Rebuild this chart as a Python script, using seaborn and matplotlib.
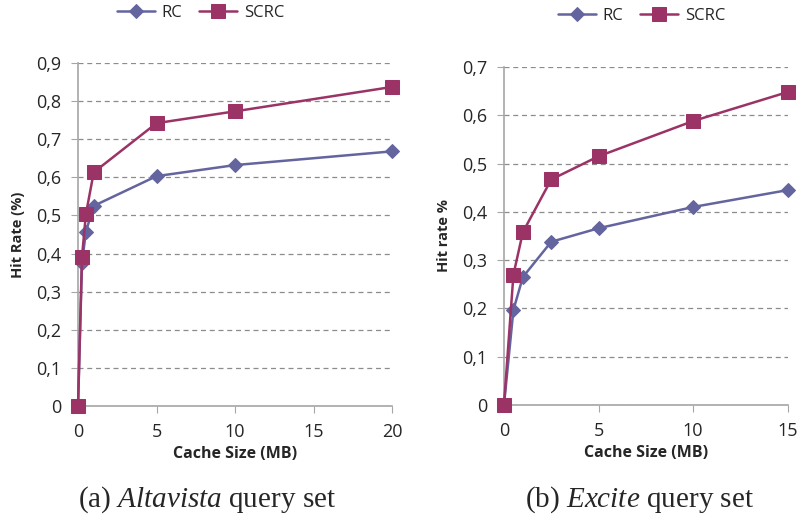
import matplotlib
matplotlib.use("Agg")
import matplotlib.pyplot as plt
import pandas as pd
import seaborn as sns
from matplotlib.ticker import FuncFormatter

# Altavista panel
alta_size = [0, 0.25, 0.5, 1, 5, 10, 20]
alta_rc = [0, 0.375, 0.457, 0.525, 0.603, 0.632, 0.668]
alta_scrc = [0, 0.39, 0.503, 0.613, 0.742, 0.773, 0.837]

# Excite panel
exc_size = [0, 0.5, 1, 2.5, 5, 10, 15]
exc_rc = [0, 0.197, 0.265, 0.338, 0.366, 0.41, 0.445]
exc_scrc = [0, 0.27, 0.358, 0.467, 0.515, 0.588, 0.648]

RC_COLOR = "#64649f"
SCRC_COLOR = "#9b3366"

sns.set_style("white")
plt.rcParams["font.family"] = ["Open Sans", "DejaVu Sans"]
plt.rcParams["mathtext.fontset"] = "custom"
plt.rcParams["mathtext.rm"] = "Liberation Serif"
plt.rcParams["mathtext.it"] = "Liberation Serif:italic"

fig = plt.figure(figsize=(8.02, 5.27), dpi=100)
ax1 = fig.add_axes([0.0973, 0.2296, 0.3915, 0.651])
ax2 = fig.add_axes([0.6284, 0.2315, 0.3536, 0.6414])

comma = FuncFormatter(lambda v, p: ("%g" % round(v, 2)).replace(".", ","))


def draw(ax, size, rc, scrc, xmax, ymax, ylabel, caption, cap_x, leg_pos):
    df = pd.DataFrame({"size": size, "RC": rc, "SCRC": scrc})
    sns.lineplot(data=df, x="size", y="RC", ax=ax, color=RC_COLOR, marker="D",
                 markersize=7, markeredgecolor=RC_COLOR, linewidth=1.8,
                 label="RC", clip_on=False, zorder=3)
    sns.lineplot(data=df, x="size", y="SCRC", ax=ax, color=SCRC_COLOR, marker="s",
                 markersize=10, markeredgecolor=SCRC_COLOR, linewidth=1.8,
                 label="SCRC", clip_on=False, zorder=4)
    ax.set_xlim(0, xmax)
    ax.set_ylim(0, ymax)
    ax.set_xticks(range(0, xmax + 1, 5))
    ax.set_yticks([i / 10 for i in range(int(round(ymax * 10)) + 1)])
    ax.yaxis.set_major_formatter(comma)
    ax.grid(axis="y", linestyle=(0, (4, 3)), color="#8c8c8c", linewidth=0.9)
    ax.set_axisbelow(True)
    for s in ["top", "right"]:
        ax.spines[s].set_visible(False)
    for s in ["left", "bottom"]:
        ax.spines[s].set_color("#a6a6a6")
        ax.spines[s].set_linewidth(1.2)
    ax.tick_params(axis="both", labelsize=13, length=5, color="#a6a6a6",
                   direction="out", bottom=True, left=True, pad=7)
    ax.set_xlabel("Cache Size (MB)", fontsize=11.5, fontweight="bold", labelpad=4)
    ax.set_ylabel(ylabel, fontsize=10.5, fontweight="bold", labelpad=8)
    ax.legend(loc="center", bbox_to_anchor=leg_pos, bbox_transform=fig.transFigure,
              ncol=2, frameon=False, fontsize=12, handlelength=2.3,
              columnspacing=1.0, handletextpad=0.4, borderaxespad=0)
    fig.text(cap_x, 0.051, caption, ha="center", va="center",
             fontsize=21, fontfamily="Liberation Serif")


draw(ax1, alta_size, alta_rc, alta_scrc, 20, 0.9, "Hit Rate (%)",
     r"(a) $\mathit{Altavista}$ query set", 0.258, (0.25, 0.975))
draw(ax2, exc_size, exc_rc, exc_scrc, 15, 0.7, "Hit rate %",
     r"(b) $\mathit{Excite}$ query set", 0.797, (0.80, 0.97))

fig.savefig("out.png", dpi=100)
